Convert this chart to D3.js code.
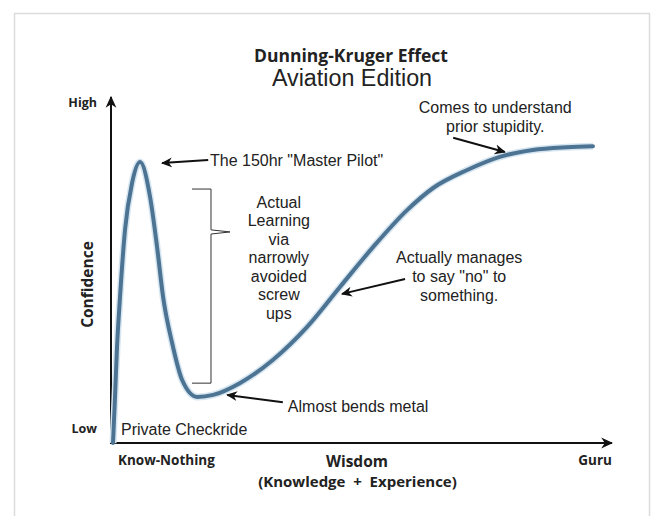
<!DOCTYPE html>
<html>
<head>
<meta charset="utf-8">
<script src="https://cdn.jsdelivr.net/npm/d3@7"></script>
<style>
  body { margin: 0; background: #fff; }
  svg text { fill: #222; }
  .bold { font-family: "Open Sans", sans-serif; font-weight: 700; }
  .note { font-family: "Liberation Sans", Arial, sans-serif; font-size: 16px; }
</style>
</head>
<body>
<div id="chart"></div>
<script>
// curve (wisdom 0-100, confidence 0-100)
var wisdom     = [0.4, 0.8, 1.2, 1.8, 2.8, 4.2, 5.8, 7.8, 9.2, 10.4, 12.2, 14.2, 17.2, 20.4, 25.7, 32.3, 39.1, 45.7, 52.3, 59.1, 64.3, 71.1, 77.6, 84.2, 91.0, 96.2];
var confidence = [0,   13.3, 27.7, 42.2, 61.6, 75.1, 81.2, 71.1, 56.6, 42.2, 28.9, 18.2, 13.3, 13.9, 17.3, 24.0, 33.5, 45.1, 56.6, 67.3, 73.7, 78.9, 82.7, 84.7, 85.5, 85.8];

var yTicks = ["Low", "High"];
var xTicks = ["Know-Nothing", "Guru"];

var learningLines = ["Actual", "Learning", "via", "narrowly", "avoided", "screw", "ups"];
var noLines = ["Actually manages", "to say \"no\" to", "something."];
var guruLines = ["Comes to understand", "prior stupidity."];

var width = 652, height = 516;
var margin = {top: 97, right: 40, bottom: 73, left: 111};

var svg = d3.select("#chart").append("svg")
  .attr("width", width).attr("height", height);

// light frame round the picture
svg.append("rect")
  .attr("x", 14.5).attr("y", 13.5)
  .attr("width", 635).attr("height", 520)
  .attr("fill", "none").attr("stroke", "#dcdcdc").attr("stroke-width", 1.5);

var x = d3.scaleLinear().domain([0, 100]).range([margin.left, width - margin.right]);
var y = d3.scaleLinear().domain([0, 100]).range([height - margin.bottom, margin.top]);

var defs = svg.append("defs");
function marker(id, size) {
  defs.append("marker")
    .attr("id", id)
    .attr("viewBox", "0 0 10 10")
    .attr("refX", 9).attr("refY", 5)
    .attr("markerWidth", size).attr("markerHeight", size)
    .attr("markerUnits", "userSpaceOnUse")
    .attr("orient", "auto")
    .append("path")
    .attr("d", "M0,0.5 L10,5 L0,9.5 L3,5 Z")
    .attr("fill", "#111");
}
marker("axisHead", 12);
marker("noteHead", 11);

// axes
svg.append("line")
  .attr("x1", x(0)).attr("y1", y(0))
  .attr("x2", x(0)).attr("y2", y(100))
  .attr("stroke", "#111").attr("stroke-width", 2)
  .attr("marker-end", "url(#axisHead)");
svg.append("line")
  .attr("x1", x(0) - 1).attr("y1", y(0))
  .attr("x2", x(100)).attr("y2", y(0))
  .attr("stroke", "#111").attr("stroke-width", 2)
  .attr("marker-end", "url(#axisHead)");

// y end labels
svg.selectAll(".ytick").data(yTicks).enter().append("text")
  .attr("class", "bold")
  .attr("x", x(0) - 14)
  .attr("y", function(d, i) { return i == 0 ? y(3) : y(97.1); })
  .attr("text-anchor", "end")
  .attr("font-size", 12.5)
  .text(function(d) { return d; });

// x end labels
svg.selectAll(".xtick").data(xTicks).enter().append("text")
  .attr("class", "bold")
  .attr("x", function(d, i) { return i == 0 ? x(1.4) : x(100); })
  .attr("y", y(0) + 22)
  .attr("text-anchor", function(d, i) { return i == 0 ? "start" : "end"; })
  .attr("font-size", 13.5)
  .text(function(d) { return d; });

svg.append("text").attr("class", "bold")
  .attr("x", x(49.1)).attr("y", y(0) + 24)
  .attr("text-anchor", "middle").attr("font-size", 15.5)
  .text("Wisdom");
svg.append("text").attr("class", "bold")
  .attr("x", x(49.2)).attr("y", y(0) + 44)
  .attr("text-anchor", "middle").attr("font-size", 15)
  .attr("xml:space", "preserve")
  .text("(Knowledge  +  Experience)");

svg.append("text").attr("class", "bold")
  .attr("transform", "translate(" + (x(0) - 18) + "," + y(45.8) + ") rotate(-90)")
  .attr("text-anchor", "middle").attr("font-size", 15.5)
  .text("Confidence");

// title
svg.append("text").attr("class", "bold")
  .attr("x", 351).attr("y", 62)
  .attr("text-anchor", "middle").attr("font-size", 17.5)
  .text("Dunning-Kruger Effect");
svg.append("text")
  .attr("x", 352).attr("y", 86)
  .attr("text-anchor", "middle")
  .attr("font-family", "Liberation Sans, Arial, sans-serif")
  .attr("font-size", 23.3)
  .text("Aviation Edition");

// the curve
var pts = wisdom.map(function(w, i) { return [w, confidence[i]]; });
var line = d3.line()
  .x(function(d) { return x(d[0]); })
  .y(function(d) { return y(d[1]); })
  .curve(d3.curveMonotoneX);

svg.append("path").datum(pts)
  .attr("d", line)
  .attr("fill", "none").attr("stroke", "#d6e6f1").attr("stroke-width", 7)
  .attr("stroke-linejoin", "round");
svg.append("path").datum(pts)
  .attr("d", line)
  .attr("fill", "none").attr("stroke", "#4d7393").attr("stroke-width", 4)
  .attr("stroke-linejoin", "round").attr("stroke-linecap", "round");

// bracket for the dip
var bx = x(19.96);
svg.append("path")
  .attr("d", "M" + (bx - 19) + "," + y(73.4) + " L" + bx + "," + y(73.4) +
             " L" + bx + "," + y(61.6) + " L" + (bx + 19) + "," + y(61.0) +
             " L" + bx + "," + y(60.4) + " L" + bx + "," + y(17.3) +
             " L" + (bx - 19) + "," + y(17.3))
  .attr("fill", "none").attr("stroke", "#333").attr("stroke-width", 1);

// notes
function arrow(x1, y1, x2, y2) {
  svg.append("line")
    .attr("x1", x(x1)).attr("y1", y(y1))
    .attr("x2", x(x2)).attr("y2", y(y2))
    .attr("stroke", "#111").attr("stroke-width", 2)
    .attr("marker-end", "url(#noteHead)");
}
function lines(arr, cx, topY, step) {
  svg.selectAll(null).data(arr).enter().append("text")
    .attr("class", "note")
    .attr("x", x(cx))
    .attr("y", function(d, i) { return y(topY) + i * step; })
    .attr("text-anchor", "middle")
    .text(function(d) { return d; });
}

svg.append("text").attr("class", "note")
  .attr("x", x(19.76)).attr("y", y(80.06))
  .text("The 150hr \"Master Pilot\"");
arrow(19.4, 81.8, 10.2, 80.9);

lines(learningLines, 33.5, 68.06, 18.5);

lines(noLines, 69.5, 51.9, 19);
arrow(58.7, 47.4, 46.1, 43.1);

svg.append("text").attr("class", "note")
  .attr("x", x(35.3)).attr("y", y(8.96))
  .text("Almost bends metal");
arrow(34.3, 11.8, 23.2, 13.9);

lines(guruLines, 76.7, 95.4, 19);
arrow(68.3, 88.2, 78.6, 84.1);

svg.append("text").attr("class", "note")
  .attr("x", x(2)).attr("y", y(2.31))
  .text("Private Checkride");
</script>
</body>
</html>
